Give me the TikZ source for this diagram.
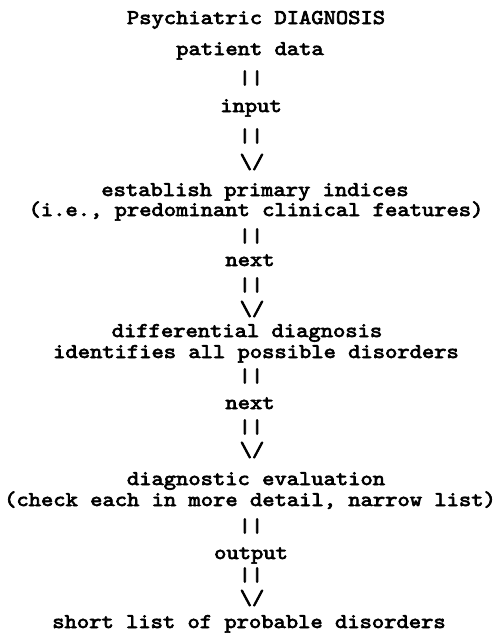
\documentclass[tikz,border=0pt]{standalone}
\usepackage{fontspec}
\newfontfamily\twfont[FakeBold=3]{lmmono10-regular.otf}
\newcommand{\tw}[1]{\scalebox{1.115}[1]{#1}}
\newcommand{\vbars}{\scalebox{1.115}[0.92]{||}}
\newcommand{\vhead}{\scalebox{1.115}[1]{\textbackslash/}}
\begin{document}
\begin{tikzpicture}[x=1pt,y=-1pt,
  txt/.style={font=\twfont\fontsize{21}{21}\selectfont, inner sep=0pt, anchor=base, text height=11pt, text depth=3pt},
  bars/.style={font=\twfont\fontsize{21}{21}\selectfont, inner sep=0pt, anchor=center}]
\useasboundingbox (0,0) rectangle (499,637);
\node[txt] (title) at (256,24) {\tw{Psychiatric DIAGNOSIS}};
\node[txt] (pd) at (250,55) {\tw{patient data}};
\node[bars] (b1) at (251,78) {\vbars};
\node[txt] (in) at (251,112) {\tw{input}};
\node[bars] (b2) at (251,136) {\vbars};
\node[bars] (v1) at (252,162) {\vhead};
\node[txt] (est) at (255,196) {\tw{establish primary indices}};
\node[txt] (ie) at (256,216) {\tw{(i.e., predominant clinical features)}};
\node[bars] (b3) at (251,236) {\vbars};
\node[txt] (nx1) at (250,266) {\tw{next}};
\node[bars] (b4) at (251,285) {\vbars};
\node[bars] (v2) at (252,309) {\vhead};
\node[txt] (dd) at (247,337) {\tw{differential diagnosis}};
\node[txt] (id) at (256,358) {\tw{identifies all possible disorders}};
\node[bars] (b5) at (251,376) {\vbars};
\node[txt] (nx2) at (250,409) {\tw{next}};
\node[bars] (b6) at (251,427) {\vbars};
\node[bars] (v3) at (252,450) {\vhead};
\node[txt] (de) at (256,485) {\tw{diagnostic evaluation}};
\node[txt] (ck) at (250,506) {\tw{(check each in more detail, narrow list)}};
\node[bars] (b7) at (251,526) {\vbars};
\node[txt] (out) at (251,559) {\tw{output}};
\node[bars] (b8) at (251,575) {\vbars};
\node[bars] (v4) at (252,598) {\vhead};
\node[txt] (sl) at (249,628) {\tw{short list of probable disorders}};
\end{tikzpicture}
\end{document}
